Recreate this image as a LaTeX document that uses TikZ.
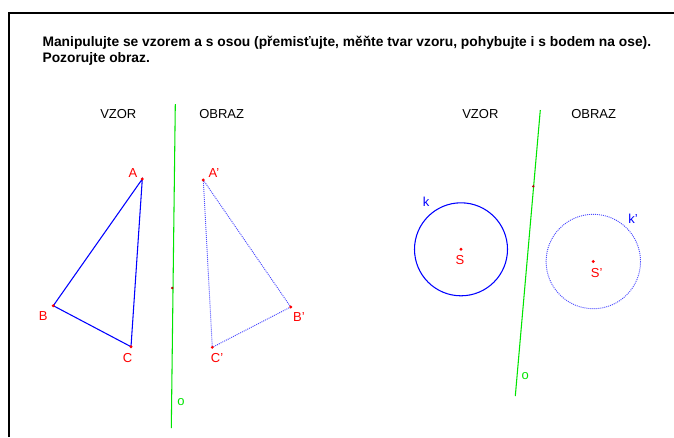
\documentclass[tikz,border=0pt]{standalone}
\usepackage{fontspec}
\setmainfont{Liberation Sans}
\begin{document}
\begin{tikzpicture}[x=0.75pt,y=-0.75pt,
  frame/.style={line width=1.5pt,black},
  axis/.style={line width=0.8pt,green!90!black},
  solidshape/.style={line width=0.8pt,blue},
  imageshape/.style={line width=0.7pt,blue!70,dash pattern=on 0.75pt off 0.75pt},
  pt/.style={circle,fill=red,inner sep=0pt,minimum size=2.4pt},
  axpt/.style={circle,fill=red!70!black,inner sep=0pt,minimum size=2pt},
  ptlabel/.style={text=red,font=\fontsize{9.75}{11}\selectfont,inner sep=0pt},
  objlabel/.style={text=blue,font=\fontsize{9.75}{11}\selectfont,inner sep=0pt},
  axlabel/.style={text=green!90!black,font=\fontsize{9.75}{11}\selectfont,inner sep=0pt},
  heading/.style={font=\fontsize{9.75}{11}\selectfont,inner sep=0pt,anchor=base west},
  title/.style={font=\bfseries\fontsize{10.35}{12}\selectfont,inner sep=0pt,anchor=base west}]
\useasboundingbox (0,0) rectangle (674,437);
\fill[white] (0,0) rectangle (674,437);
% frame
\coordinate (fbl) at (9,437);
\coordinate (ftl) at (9,13);
\coordinate (ftr) at (674,13);
\draw[frame] (fbl) -- (ftl) -- (ftr);
% title
\node[title] (t1) at (42.3,46) {Manipulujte se vzorem a s osou (přemisťujte, měňte tvar vzoru, pohybujte i s bodem na ose).};
\node[title] (t2) at (42.3,62.3) {Pozorujte obraz.};
% headings
\node[heading] (vz1) at (100,118.3) {VZOR};
\node[heading] (ob1) at (199,118.3) {OBRAZ};
\node[heading] (vz2) at (462,118.3) {VZOR};
\node[heading] (ob2) at (571,118.3) {OBRAZ};
% left axis
\coordinate (o1a) at (175.3,104);
\coordinate (o1b) at (171.3,428);
\draw[axis] (o1a) -- (o1b);
\node[axpt] (P1) at (172.2,288) {};
\node[axlabel] (o1) at (181,401.7) {o};
% triangle
\coordinate (A) at (142.3,179);
\coordinate (B) at (53.3,305.7);
\coordinate (C) at (131,346.7);
\draw[solidshape] (A) -- (B) -- (C) -- cycle;
\coordinate (A') at (203.3,180);
\coordinate (B') at (290.7,307);
\coordinate (C') at (212.3,347.3);
\draw[imageshape] (A') -- (B') -- (C') -- cycle;
\foreach \p in {A,B,C,A',B',C'} \node[pt] at (\p) {};
\node[ptlabel] (lA) at (133,172.7) {A};
\node[ptlabel] (lB) at (43.3,315.7) {B};
\node[ptlabel] (lC) at (127.5,358) {C};
\node[ptlabel] (lA') at (214,172.7) {A'};
\node[ptlabel] (lB') at (299,317.5) {B'};
\node[ptlabel] (lC') at (217,358) {C'};
% right axis
\coordinate (o2a) at (540.3,110);
\coordinate (o2b) at (515.3,396);
\draw[axis] (o2a) -- (o2b);
\node[axpt] (P2) at (533.3,186.3) {};
\node[axlabel] (o2) at (525.3,376) {o};
% circles
\coordinate (S) at (461,249.3);
\coordinate (S') at (593.3,261.5);
\draw[solidshape] (S) circle[radius=46.5];
\draw[imageshape] (S') circle[radius=47.2];
\node[pt] (pS) at (S) {};
\node[pt] (pS') at (S') {};
\node[ptlabel] (lS) at (460,260.5) {S};
\node[ptlabel] (lS') at (596.7,272.7) {S'};
\node[objlabel] (lk) at (426,201.7) {k};
\node[objlabel] (lk') at (633,218.3) {k'};
\end{tikzpicture}
\end{document}
